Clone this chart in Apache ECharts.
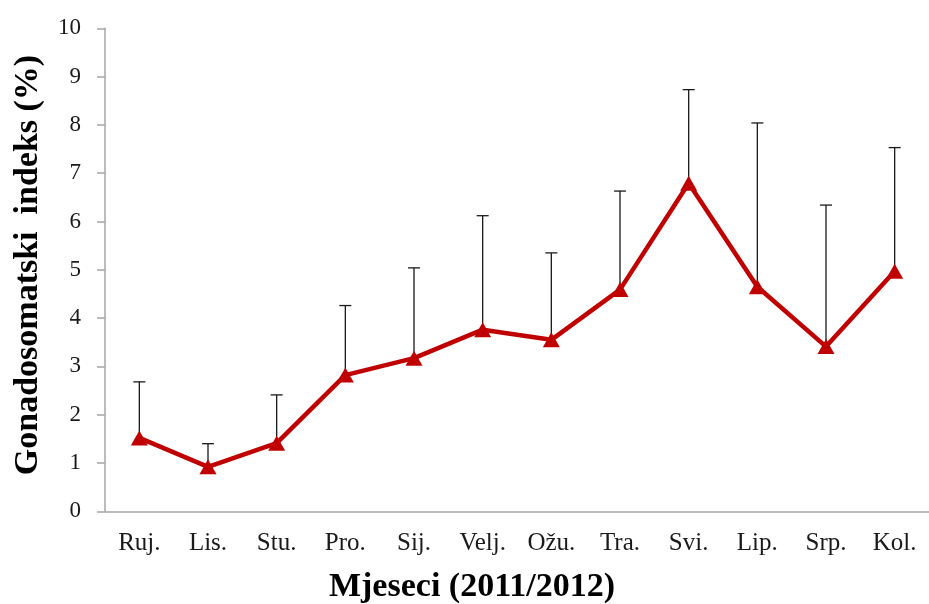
<!DOCTYPE html>
<html>
<head>
<meta charset="utf-8">
<script src="https://cdn.jsdelivr.net/npm/echarts@6/dist/echarts.min.js"></script>
<style>
html,body{margin:0;padding:0;background:#fff;}
#chart{width:929px;height:604px;}
</style>
</head>
<body>
<div id="chart"></div>
<script>
const categories = ['Ruj.', 'Lis.', 'Stu.', 'Pro.', 'Sij.', 'Velj.', 'Ožu.', 'Tra.', 'Svi.', 'Lip.', 'Srp.', 'Kol.'];
const means = [1.52, 0.92, 1.41, 2.82, 3.17, 3.76, 3.55, 4.59, 6.79, 4.65, 3.41, 4.97];
const errTop = [2.68, 1.40, 2.41, 4.26, 5.04, 6.12, 5.35, 6.63, 8.73, 8.04, 6.34, 7.53];
const yTicks = [0, 1, 2, 3, 4, 5, 6, 7, 8, 9, 10];
const yTitle = 'Gonadosomatski  indeks (%)';
const xTitle = 'Mjeseci (2011/2012)';

const FONT = '"Liberation Serif", "Times New Roman", serif';
const chart = echarts.init(document.getElementById('chart'), null, {renderer: 'canvas'});

const errData = categories.map((c, i) => [i, means[i], errTop[i]]);

chart.setOption({
  animation: false,
  backgroundColor: '#ffffff',
  grid: {left: 105, top: 28.3, width: 832, height: 483, containLabel: false},
  xAxis: {
    type: 'category',
    data: categories,
    boundaryGap: true,
    axisLine: {show: true, lineStyle: {color: '#a6a6a6', width: 1.5}},
    axisTick: {show: false},
    axisLabel: {color: '#1a1a1a', fontFamily: FONT, fontSize: 25, margin: 20, interval: 0},
    splitLine: {show: false}
  },
  yAxis: {
    type: 'value',
    min: yTicks[0],
    max: yTicks[yTicks.length - 1],
    interval: 1,
    axisLine: {show: true, lineStyle: {color: '#a6a6a6', width: 1.5}},
    axisTick: {show: true, inside: false, length: 8, lineStyle: {color: '#a6a6a6', width: 1.5}},
    axisLabel: {color: '#1a1a1a', fontFamily: FONT, fontSize: 23, margin: 24},
    splitLine: {show: false}
  },
  graphic: [
    {
      type: 'text',
      x: 28, y: 265,
      rotation: Math.PI / 2,
      style: {
        text: yTitle,
        fill: '#000',
        font: 'bold 34px ' + FONT,
        align: 'center',
        verticalAlign: 'middle'
      }
    },
    {
      type: 'text',
      x: 472, y: 587,
      style: {
        text: xTitle,
        fill: '#000',
        font: 'bold 34px ' + FONT,
        align: 'center',
        verticalAlign: 'middle'
      }
    }
  ],
  series: [
    {
      type: 'custom',
      z: 1,
      data: errData,
      renderItem: function (params, api) {
        const x = api.value(0);
        const base = api.coord([x, api.value(1)]);
        const top = api.coord([x, api.value(2)]);
        const hw = 6;
        const style = {stroke: '#1a1a1a', lineWidth: 1.3};
        return {
          type: 'group',
          children: [
            {type: 'line', shape: {x1: base[0], y1: base[1], x2: top[0], y2: top[1]}, style: style},
            {type: 'line', shape: {x1: top[0] - hw, y1: top[1], x2: top[0] + hw, y2: top[1]}, style: style}
          ]
        };
      }
    },
    {
      type: 'line',
      z: 3,
      data: means,
      symbol: 'triangle',
      symbolSize: [17, 15],
      showSymbol: true,
      lineStyle: {color: '#c00000', width: 4.5},
      itemStyle: {color: '#c00000', borderWidth: 0}
    }
  ]
});
</script>
</body>
</html>
